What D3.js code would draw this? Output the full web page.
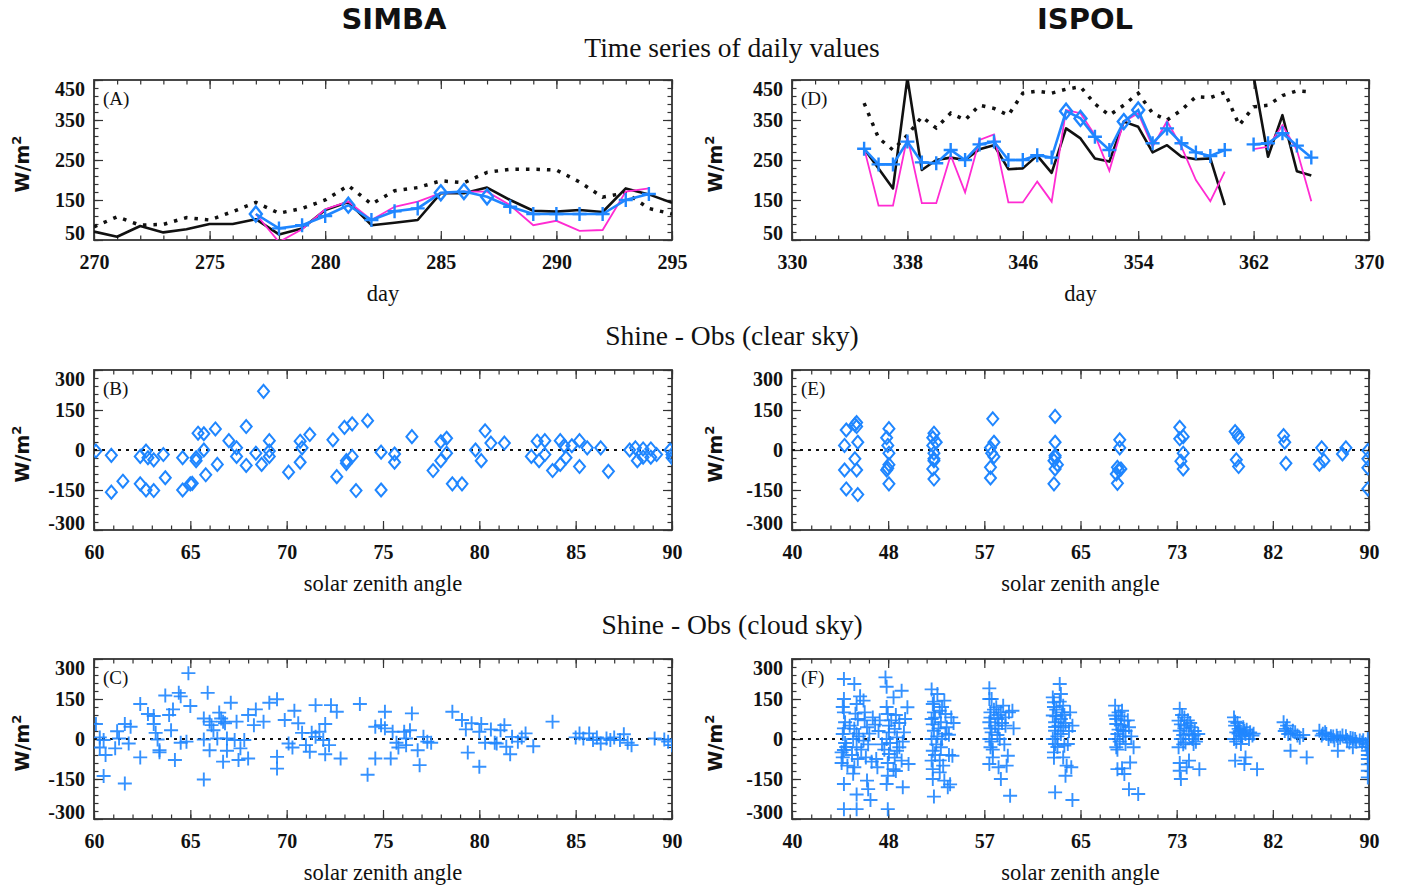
<!DOCTYPE html>
<html><head><meta charset="utf-8">
<script src="https://cdn.jsdelivr.net/npm/d3@7"></script>
<style>body{margin:0;background:#fff;}svg{display:block;}</style>
</head><body>
<svg id="c" width="1406" height="889"></svg>
<script>
// ---------------- DATA ----------------
const simbaDays = [270,271,272,273,274,275,276,277,278,279,280,281,282,283,284,285,286,287,288,289,290,291,292,293,294,295];
const simbaDotted = [83,108,87,89,106,100,121,144,117,129,150,186,140,173,181,198,193,219,227,227,225,195,157,168,129,115];
const simbaBlack = [71,58,85,69,77,90,90,102,64,79,125,145,87,93,100,167,167,181,150,123,121,125,120,179,164,143];
const simbaPink  = [null,null,null,null,null,null,null,115,45,77,127,146,100,133,146,167,171,171,137,87,98,73,75,171,179,null];
const simbaBlue  = [null,null,null,null,null,null,null,115,79,87,110,137,100,122,129,168,171,158,133,115,115,115,115,150,165,null];
const simbaClearDays = [277,281,285,286,287];

const ispolDays = [335,336,337,338,339,340,341,342,343,344,345,346,347,348,349,350,351,352,353,354,355,356,357,358,359,360,361,362,363,364,365,366];
const ispolDotted = [392,305,275,312,358,330,367,350,387,379,362,417,422,417,427,433,390,362,387,417,367,350,375,408,406,419,337,383,387,411,423,420];
const ispolBlack = [278,229,179,455,225,250,256,250,277,287,227,229,261,218,329,304,254,246,346,333,269,287,258,252,254,137,null,460,258,362,222,211];
const ispolPink  = [279,136,136,308,142,142,262,169,300,314,144,144,196,146,375,367,312,223,346,367,283,347,283,200,147,221,null,277,283,337,275,147];
const ispolBlue  = [278,239,239,296,244,242,275,250,289,296,250,250,262,256,372,354,308,275,346,375,292,329,292,269,260,275,null,289,292,317,286,256];
const ispolClearDays = [349,350,353,354];

const dayTicksSimba = [270,275,280,285,290,295];
const dayTicksIspol = [330,338,346,354,362,370];
const fluxTicks = [50,150,250,350,450];
const diffTicks = [-300,-150,0,150,300];
const szaTicksSimba = [60,65,70,75,80,85,90];
const szaTickLabelsIspol = ["40","48","57","65","73","82","90"];

// Panel B: SIMBA clear sky  [solar zenith angle, Shine - Obs]
const simbaClear = [[60.1,-4],[60.9,-20],[60.9,-158],[61.5,-117],[62.4,-24],[62.4,-127],[62.7,-4],[62.8,-29],[62.7,-150],[63.1,-37],[63.1,-152],[63.6,-17],[63.7,-104],[64.6,-29],[64.6,-150],[65.1,-125],[65.0,-127],[65.3,-40],[65.3,-29],[65.4,63],[65.7,0],[65.7,61],[65.8,-93],[66.3,79],[66.4,-54],[67.0,35],[67.4,8],[67.4,-24],[67.9,88],[67.9,-58],[68.4,-12],[68.8,220],[68.7,-54],[69.1,35],[69.1,-4],[69.1,-24],[70.1,-83],[70.7,33],[70.8,8],[70.7,-46],[71.2,58],[72.4,38],[72.6,-100],[73.0,85],[73.1,-50],[73.1,-40],[73.4,-24],[73.4,98],[73.6,-152],[74.2,110],[74.9,-8],[74.9,-150],[75.6,-15],[75.6,-46],[76.5,50],[77.6,-77],[78.0,-40],[78.0,31],[78.3,-12],[78.3,44],[78.6,-127],[79.1,-127],[79.8,0],[80.1,-40],[80.3,72],[80.6,26],[81.3,26],[82.7,-24],[83.0,33],[83.1,-40],[83.4,35],[83.4,-17],[83.8,-77],[84.2,35],[84.2,-54],[84.4,16],[84.5,-29],[84.8,16],[85.2,35],[85.2,-62],[85.6,8],[86.3,8],[86.7,-80],[87.8,0],[88.1,8],[88.2,-40],[88.5,4],[88.5,-27],[88.9,4],[88.9,-27],[89.2,-17],[89.9,0],[90.0,-17],[90.0,-29]];

// Panel E: ISPOL clear sky
const ispolClear = [[44.55,17],[44.7,75],[44.55,-75],[44.7,-146],[45.45,95],[45.6,88],[45.6,103],[45.7,29],[45.45,-33],[45.6,-75],[45.7,-167],[48.4,80],[48.2,46],[48.3,17],[48.4,-12],[48.4,-55],[48.2,-75],[48.3,-68],[48.4,-127],[52.3,63],[52.2,46],[52.5,29],[52.2,17],[52.3,-12],[52.3,-33],[52.2,-71],[52.3,-109],[52.3,-40],[57.4,117],[57.5,29],[57.2,8],[57.3,-12],[57.5,-25],[57.2,-65],[57.2,-105],[62.8,126],[62.8,29],[62.8,-21],[62.7,-40],[63.0,-55],[62.8,-71],[62.7,-127],[62.8,-27],[68.4,38],[68.4,8],[68.2,-65],[68.5,-71],[68.3,-75],[68.1,-90],[68.2,-125],[73.6,85],[73.6,42],[73.9,50],[73.9,-12],[73.7,-42],[73.9,-71],[78.4,69],[78.6,58],[78.7,48],[78.5,-37],[78.7,-62],[82.6,54],[82.7,29],[82.8,-50],[85.9,8],[85.7,-53],[86.1,-40],[87.7,-15],[88.0,8],[89.9,-2],[89.9,-33],[89.9,-67],[89.9,-146]];

// Panel C: SIMBA cloud sky
const simbaCloud = [[60.1,56],[60.3,6],[60.3,-32],[60.5,-4],[60.6,-60],[60.5,-139],[61.1,-35],[61.2,29],[61.3,2],[61.6,56],[61.6,-167],[61.8,-17],[61.9,46],[62.4,131],[62.4,-69],[62.8,94],[63.1,56],[63.1,86],[63.2,23],[63.3,-2],[63.4,-42],[63.4,-50],[63.7,163],[63.9,90],[64.0,33],[64.1,111],[64.2,-79],[64.4,173],[64.5,160],[64.5,-14],[64.8,-10],[64.9,247],[65.0,124],[65.7,-2],[65.7,-152],[65.9,173],[65.7,77],[66.0,65],[66.0,-42],[66.1,52],[66.2,33],[66.4,2],[66.5,99],[66.6,77],[66.7,65],[66.7,-85],[66.9,-44],[66.8,59],[66.9,2],[67.1,136],[67.3,-4],[67.4,65],[67.6,-35],[67.5,-79],[67.8,-4],[68.0,90],[68.0,-73],[68.3,52],[68.4,111],[68.8,65],[69.1,136],[69.5,149],[69.5,-67],[69.5,-111],[69.9,71],[70.1,-17],[70.3,-32],[70.4,106],[70.6,59],[70.8,23],[71.0,-23],[71.2,-48],[71.3,23],[71.5,127],[71.5,8],[71.7,27],[71.9,-4],[72.0,56],[72.0,-57],[72.2,-23],[72.3,127],[72.6,102],[72.8,-73],[73.8,131],[74.2,-134],[74.6,46],[74.6,-73],[74.9,52],[75.1,102],[75.1,40],[75.4,-73],[75.5,27],[75.7,-14],[75.8,-32],[76.1,27],[76.2,-23],[76.2,2],[76.4,33],[76.5,96],[76.8,-42],[76.9,-98],[77.1,8],[77.3,-10],[77.5,-14],[78.6,102],[79.1,71],[79.3,36],[79.4,-51],[79.6,59],[80.0,27],[80.0,-104],[80.1,56],[80.3,-14],[80.6,36],[80.8,-14],[80.9,-17],[81.1,33],[81.3,52],[81.4,-29],[81.6,-57],[81.7,8],[82.0,-10],[82.2,6],[82.4,21],[82.8,-27],[83.8,65],[85.0,6],[85.2,21],[85.4,2],[85.7,21],[85.9,-4],[86.1,6],[86.3,-17],[86.6,2],[86.8,-4],[87.0,6],[87.3,-4],[87.5,18],[87.7,-14],[87.9,-23],[89.1,2],[89.6,-2],[89.8,-10],[90.0,-23]];

// Panel F: ISPOL cloud sky
const ispolCloud = [[44.5,225],[44.5,150],[44.5,100],[44.6,63],[44.4,19],[44.5,-41],[44.4,-69],[44.5,-169],[44.5,-263],[44.3,-90],[44.8,-100],[44.6,-15],[44.4,120],[44.7,-30],[44.5,40],[44.3,-50],
[45.4,206],[45.6,131],[45.7,75],[45.4,38],[45.3,0],[45.6,-31],[45.4,-106],[45.6,-208],[45.6,-263],[45.0,50],[45.2,-60],[45.8,10],[45.9,160],[45.5,95],[45.7,-75],[45.3,-130],[45.6,20],
[46.2,144],[46.3,100],[46.5,44],[46.2,-6],[46.4,-69],[46.5,-156],[46.6,-188],[46.8,-229],[46.0,-40],[46.7,20],[46.9,-85],[46.3,70],[46.6,-20],
[47.0,81],[47.2,54],[47.3,-75],[47.4,-106],[47.5,30],[47.8,-20],[47.6,70],
[48.1,231],[48.2,196],[48.3,94],[48.4,50],[48.2,0],[48.4,-56],[48.3,-138],[48.2,-169],[48.3,-263],[48.6,70],[48.0,-40],[48.2,120],[48.4,25],[48.3,-90],[48.5,-15],
[48.8,156],[48.9,38],[49.1,6],[48.8,-113],[49.1,-44],[49.0,-120],[49.3,60],[49.0,90],[48.9,-70],
[49.3,-31],[49.5,181],[49.7,25],[49.5,-81],[49.6,-181],[50.0,119],[50.1,-94],[49.8,75],[49.6,-10],
[52.1,186],[52.2,131],[52.3,100],[52.1,75],[52.3,31],[52.1,0],[52.2,-44],[52.1,-81],[52.2,-113],[52.3,-216],[52.6,169],[52.8,106],[52.9,63],[53.0,0],[52.9,-31],[52.8,-125],[53.2,144],[53.3,94],[53.4,44],[53.2,-156],[53.5,-181],[53.8,81],[53.9,-63],[53.6,16],[52.4,80],[52.7,40],[52.5,-20],[53.0,120],[53.6,-60],[53.1,-100],[52.2,-150],[54.0,60],[53.7,-170],[52.2,55],[52.4,-60],[52.6,10],[52.8,-80],[53.3,20],[52.3,140],
[57.1,190],[57.1,150],[57.2,100],[57.1,63],[57.3,25],[57.1,0],[57.2,-31],[57.1,-94],[57.4,-69],[57.7,119],[57.8,75],[57.9,38],[58.0,0],[57.9,-106],[58.1,-150],[58.3,125],[58.5,81],[58.5,50],[58.7,-63],[58.6,-100],[58.9,-213],[59.1,106],[57.3,150],[57.6,50],[57.4,-40],[58.2,60],[58.4,-20],[57.9,90],[59.2,40],[58.8,100],[57.2,80],[57.3,-10],[57.5,110],[57.8,15],[58.1,100],[57.2,40],
[62.6,156],[62.7,138],[62.6,88],[62.8,63],[62.8,31],[62.6,0],[62.8,-19],[62.7,-50],[62.8,-200],[63.3,169],[63.5,125],[63.3,75],[63.5,44],[63.3,19],[63.6,-25],[63.5,-69],[63.7,-138],[64.1,100],[64.2,-106],[64.3,-229],[63.9,-19],[63.2,206],[62.9,110],[63.1,50],[63.0,-30],[63.7,60],[64.0,30],[63.4,100],[62.7,-70],[64.3,50],[63.8,-100],[62.7,120],[62.9,85],[63.0,10],[63.2,140],[63.6,90],[62.8,45],
[68.0,125],[68.0,88],[68.1,56],[68.2,19],[68.0,0],[68.1,-31],[68.2,-113],[68.6,106],[68.8,69],[68.7,31],[68.9,-19],[68.8,-131],[69.2,44],[69.3,-88],[69.2,-188],[69.6,-31],[70.0,-206],[68.3,100],[68.5,50],[68.4,-10],[68.9,30],[69.1,70],[68.2,-40],[69.4,10],[68.6,-110],[68.1,75],[68.3,35],[68.5,85],[68.7,10],
[73.6,113],[73.5,69],[73.6,31],[73.7,0],[73.5,-31],[73.6,-119],[73.7,-150],[74.0,81],[74.2,50],[74.4,19],[74.1,-13],[74.4,-81],[74.2,-106],[74.6,44],[74.8,13],[75.2,19],[75.3,-113],[74.8,-19],[73.8,90],[74.0,40],[74.5,60],[73.9,-20],[74.9,30],[75.0,-10],[73.6,-90],[73.7,55],[73.9,15],[74.3,70],[74.7,0],
[78.3,81],[78.4,50],[78.5,25],[78.3,0],[78.7,38],[78.9,13],[79.1,44],[79.3,19],[78.4,-81],[79.2,-94],[79.3,-69],[79.7,25],[79.9,13],[80.3,-113],[78.9,-19],[78.6,60],[78.8,30],[79.0,10],[79.4,35],[79.6,0],[78.5,-10],[80.0,20],[78.4,65],[78.7,20],[79.2,30],
[82.6,63],[82.8,38],[83.0,19],[83.4,31],[83.8,13],[83.2,-44],[84.6,-69],[82.9,50],[83.2,20],[83.6,25],[84.0,5],[84.3,15],[82.7,30],
[85.7,31],[85.9,13],[86.3,19],[86.5,0],[86.9,9],[87.3,-44],[87.3,4],[87.7,13],[88.1,-4],[88.3,-13],[88.4,4],[88.6,-31],[88.8,0],[89.2,-6],[89.4,-13],[89.7,-19],[89.9,-44],[89.9,-75],[89.9,-119],[89.9,-144],[89.9,0],[86.0,20],[86.7,10],[87.0,-5],[87.5,5],[88.0,10],[88.9,-10],[89.5,-5],[89.8,-30],[89.9,-60],[89.9,-95],[86.2,25],[87.2,12],[88.6,2]];

// ---------------- DRAWING ----------------
const svg = d3.select("#c");
const BLUE = "#1f86ff", PINK = "#ff2bd2", INK = "#111";
const SERIF = "'Liberation Serif','Times New Roman',serif";
const SANS = "'DejaVu Sans',Verdana,sans-serif";
const colX = [{x0:94,x1:672},{x0:792,x1:1369}];
const rowY = [80,370,659];
const H = 160;
let clipId = 0;

function panel(col,row,opt){
  const c = colX[col], y0 = rowY[row], y1 = y0 + H;
  const x = d3.scaleLinear().domain(opt.xDomain).range([c.x0,c.x1]);
  const y = d3.scaleLinear().domain(opt.yDomain).range([y1,y0]);
  const g = svg.append("g");
  const id = "clip"+(clipId++);
  svg.append("clipPath").attr("id",id).append("rect").attr("x",c.x0).attr("y",y0).attr("width",c.x1-c.x0).attr("height",H);

  function ax(fn, scale, vals, size, tx, ty, labels, pad){
    const a = fn(scale).tickValues(vals).tickSize(size).tickPadding(pad||0)
      .tickFormat(labels ? (d,i)=>labels[i] : ()=>"");
    const gg = g.append("g").attr("transform",`translate(${tx},${ty})`).call(a);
    gg.select(".domain").remove();
    gg.selectAll(".tick line").attr("stroke","#333").attr("stroke-width",1.2);
    gg.selectAll("text").attr("font-family",SERIF).attr("font-size",20).attr("font-weight","bold").attr("fill",INK);
    return gg;
  }
  const xMinor = d3.range(opt.xDomain[0], opt.xDomain[1]+1e-6, opt.xMinor);
  const yMinor = d3.range(opt.yDomain[0], opt.yDomain[1]+1e-6, opt.yMinor);
  ax(d3.axisBottom,x,xMinor,-4.5,0,y1);
  ax(d3.axisTop,x,xMinor,-4.5,0,y0);
  ax(d3.axisLeft,y,yMinor,-4.5,c.x0,0);
  ax(d3.axisRight,y,yMinor,-4.5,c.x1,0);
  ax(d3.axisBottom,x,opt.xTicks,-9,0,y1,opt.xLabels,15);
  ax(d3.axisTop,x,opt.xTicks,-9,0,y0);
  const yl = ax(d3.axisLeft,y,opt.yTicks,-9,c.x0,0,opt.yTicks.map(String),9);
  ax(d3.axisRight,y,opt.yTicks,-9,c.x1,0);
  const yt = yl.selectAll("text").nodes();
  d3.select(yt[0]).attr("transform","translate(0,-7)");
  d3.select(yt[yt.length-1]).attr("transform","translate(0,9)");

  g.append("rect").attr("x",c.x0).attr("y",y0).attr("width",c.x1-c.x0).attr("height",H)
    .attr("fill","none").attr("stroke","#333").attr("stroke-width",1.8);

  g.append("text").attr("x",c.x0+9).attr("y",y0+25).attr("font-family",SERIF).attr("font-size",19).attr("fill",INK).text(opt.letter);
  const yt2 = g.append("text").attr("transform",`translate(${col? 722:29},${y0+H/2+4}) rotate(-90)`)
    .attr("text-anchor","middle").attr("font-family",SANS).attr("font-weight","bold").attr("font-size",19).attr("fill",INK);
  yt2.append("tspan").text("W/m");
  yt2.append("tspan").attr("dy",-8).attr("font-size",13).text("2");
  g.append("text").attr("x",(c.x0+c.x1)/2).attr("y",y1+61).attr("text-anchor","middle")
    .attr("font-family",SERIF).attr("font-size",22.5).attr("fill",INK).text(opt.xTitle);

  const plot = svg.append("g").attr("clip-path",`url(#${id})`);
  return {x,y,plot};
}

function plus(sel,cx,cy,r,w,color){
  sel.append("path").attr("d",`M${cx-r},${cy}H${cx+r}M${cx},${cy-r}V${cy+r}`).attr("stroke",color).attr("stroke-width",w).attr("fill","none");
}
function diamond(sel,cx,cy,rx,ry,w,color){
  sel.append("path").attr("d",`M${cx},${cy-ry}L${cx+rx},${cy}L${cx},${cy+ry}L${cx-rx},${cy}Z`).attr("stroke",color).attr("stroke-width",w).attr("fill","none");
}

function timePanel(col,days,dotted,black,pink,blue,clearDays,opt){
  const p = panel(col,0,opt);
  const line = vals => d3.line().defined((d,i)=>vals[i]!=null).x((d,i)=>p.x(days[i])).y((d,i)=>p.y(vals[i]))(days);
  p.plot.append("path").attr("d",line(dotted)).attr("fill","none").attr("stroke",INK).attr("stroke-width",3.5).attr("stroke-dasharray","3.5,7");
  p.plot.append("path").attr("d",line(black)).attr("fill","none").attr("stroke",INK).attr("stroke-width",2.6).attr("stroke-linejoin","round");
  p.plot.append("path").attr("d",line(pink)).attr("fill","none").attr("stroke",PINK).attr("stroke-width",1.8);
  p.plot.append("path").attr("d",line(blue)).attr("fill","none").attr("stroke",BLUE).attr("stroke-width",2.6);
  days.forEach((d,i)=>{
    if(blue[i]==null) return;
    if(clearDays.includes(d)) diamond(p.plot,p.x(d),p.y(blue[i]),6,7.5,2.4,BLUE);
    else plus(p.plot,p.x(d),p.y(blue[i]),7,2.4,BLUE);
  });
}

function scatterPanel(col,row,pts,kind,opt){
  const p = panel(col,row,opt);
  p.plot.append("line").attr("x1",p.x.range()[0]).attr("x2",p.x.range()[1]).attr("y1",p.y(0)).attr("y2",p.y(0))
    .attr("stroke",INK).attr("stroke-width",2).attr("stroke-dasharray","3,5");
  pts.forEach(d=>{
    if(kind==="d") diamond(p.plot,p.x(d[0]),p.y(d[1]),5.5,6.5,2,BLUE);
    else plus(p.plot,p.x(d[0]),p.y(d[1]),7,1.9,"rgba(31,134,255,0.9)");
  });
}

const simbaX = {xDomain:[270,295],xMinor:1,xTicks:dayTicksSimba,xLabels:dayTicksSimba.map(String),yDomain:[50,450],yMinor:20,yTicks:fluxTicks,xTitle:"day"};
const ispolX = {xDomain:[330,370],xMinor:1.6,xTicks:dayTicksIspol,xLabels:dayTicksIspol.map(String),yDomain:[50,450],yMinor:20,yTicks:fluxTicks,xTitle:"day"};
const szaS = {xDomain:[60,90],xMinor:1,xTicks:szaTicksSimba,xLabels:szaTicksSimba.map(String),yDomain:[-300,300],yMinor:30,yTicks:diffTicks,xTitle:"solar zenith angle"};
const szaI = {xDomain:[40,90],xMinor:50/30,xTicks:d3.range(7).map(k=>40+k*50/6),xLabels:szaTickLabelsIspol,yDomain:[-300,300],yMinor:30,yTicks:diffTicks,xTitle:"solar zenith angle"};

timePanel(0,simbaDays,simbaDotted,simbaBlack,simbaPink,simbaBlue,simbaClearDays,{...simbaX,letter:"(A)"});
timePanel(1,ispolDays,ispolDotted,ispolBlack,ispolPink,ispolBlue,ispolClearDays,{...ispolX,letter:"(D)"});
scatterPanel(0,1,simbaClear,"d",{...szaS,letter:"(B)"});
scatterPanel(1,1,ispolClear,"d",{...szaI,letter:"(E)"});
scatterPanel(0,2,simbaCloud,"p",{...szaS,letter:"(C)"});
scatterPanel(1,2,ispolCloud,"p",{...szaI,letter:"(F)"});

svg.append("text").attr("x",394).attr("y",29).attr("text-anchor","middle").attr("font-family",SANS).attr("font-weight","bold").attr("font-size",29).attr("fill",INK).text("SIMBA");
svg.append("text").attr("x",1085).attr("y",29).attr("text-anchor","middle").attr("font-family",SANS).attr("font-weight","bold").attr("font-size",29).attr("fill",INK).text("ISPOL");
[["Time series of daily values",57],["Shine - Obs (clear sky)",345],["Shine - Obs (cloud sky)",634]].forEach(t=>{
  svg.append("text").attr("x",732).attr("y",t[1]).attr("text-anchor","middle").attr("font-family",SERIF).attr("font-size",27.5).attr("fill",INK).text(t[0]);
});
</script>
</body></html>
